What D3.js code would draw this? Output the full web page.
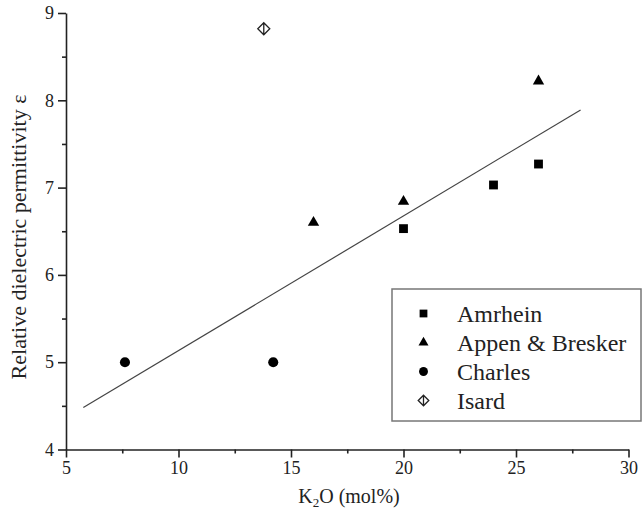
<!DOCTYPE html>
<html>
<head>
<meta charset="utf-8">
<script src="https://cdn.jsdelivr.net/npm/d3@7"></script>
<style>
  html, body { margin: 0; padding: 0; background: #fff; }
  svg { display: block; }
  text { font-family: "Liberation Serif", "Times New Roman", serif; fill: #222; }
</style>
</head>
<body>
<svg id="chart" width="642" height="511"></svg>
<script>
// ---- data ----
const amrheinX = [20, 24, 26];
const amrheinY = [6.53, 7.03, 7.27];
const appenX = [16, 20, 26];
const appenY = [6.60, 6.84, 8.22];
const charlesX = [7.62, 14.21];
const charlesY = [5.0, 5.0];
const isardX = [13.79];
const isardY = [8.82];
const fitX = [5.77, 27.87];
const fitY = [4.48, 7.89];
const xTicks = [5, 10, 15, 20, 25, 30];
const xMinorTicks = [7.5, 12.5, 17.5, 22.5, 27.5];
const yTicks = [4, 5, 6, 7, 8, 9];
const yMinorTicks = [4.5, 5.5, 6.5, 7.5, 8.5];
const legendNames = ["Amrhein", "Appen & Bresker", "Charles", "Isard"];
const legendShapes = ["square", "triangle", "circle", "diamond"];

const svg = d3.select("#chart");
const x = d3.scaleLinear().domain([5, 30]).range([66, 628.5]);
const y = d3.scaleLinear().domain([4, 9]).range([449.5, 13]);

// ---- axes ----
const axisStroke = "#222";
const gx = svg.append("g").attr("transform", `translate(0,${y(4)})`)
  .call(d3.axisBottom(x).tickValues(xTicks).tickSize(8).tickSizeOuter(0).tickPadding(4).tickFormat(d3.format("d")));
const gxm = svg.append("g").attr("transform", `translate(0,${y(4)})`)
  .call(d3.axisBottom(x).tickValues(xMinorTicks).tickSize(4).tickSizeOuter(0).tickFormat(""));
const gy = svg.append("g").attr("transform", `translate(${x(5)},0)`)
  .call(d3.axisLeft(y).tickValues(yTicks).tickSize(8).tickSizeOuter(0).tickPadding(4).tickFormat(d3.format("d")));
const gym = svg.append("g").attr("transform", `translate(${x(5)},0)`)
  .call(d3.axisLeft(y).tickValues(yMinorTicks).tickSize(4).tickSizeOuter(0).tickFormat(""));
[gx, gxm, gy, gym].forEach(g => {
  g.selectAll("path.domain").attr("stroke", axisStroke).attr("stroke-width", 1.6);
  g.selectAll(".tick line").attr("stroke", axisStroke).attr("stroke-width", 1.6);
  g.selectAll(".tick text").attr("font-size", 18).attr("font-family", "Liberation Serif").attr("fill", "#333");
});
gxm.select("path.domain").remove();
gym.select("path.domain").remove();

// ---- axis titles ----
const xt = svg.append("text").attr("x", 349).attr("y", 503).attr("text-anchor", "middle").attr("font-size", 20).attr("fill", "#333");
xt.append("tspan").text("K");
xt.append("tspan").attr("font-size", 13).attr("dy", 4).text("2");
xt.append("tspan").attr("dy", -4).text("O (mol%)");

svg.append("text").attr("transform", "rotate(-90)")
  .attr("x", -237).attr("y", 26).attr("text-anchor", "middle")
  .attr("font-size", 22).attr("fill", "#333")
  .text("Relative dielectric permittivity ε");

// ---- fit line ----
svg.append("path")
  .datum(fitX.map((v, i) => [v, fitY[i]]))
  .attr("d", d3.line().x(d => x(d[0])).y(d => y(d[1])))
  .attr("fill", "none").attr("stroke", "#444").attr("stroke-width", 1.2);

// ---- markers ----
function drawShape(g, shape, cx, cy, scale) {
  const s = scale || 1;
  if (shape === "square") {
    g.append("path").attr("d", d3.symbol(d3.symbolSquare, 78 * s * s)()).attr("transform", `translate(${cx},${cy})`).attr("fill", "#000");
  } else if (shape === "triangle") {
    g.append("path").attr("d", d3.symbol(d3.symbolTriangle, 56 * s * s)()).attr("transform", `translate(${cx},${cy})`).attr("fill", "#000");
  } else if (shape === "circle") {
    g.append("path").attr("d", d3.symbol(d3.symbolCircle, 80 * s * s)()).attr("transform", `translate(${cx},${cy})`).attr("fill", "#000");
  } else if (shape === "diamond") {
    const h = 6 * s;
    g.append("path").attr("d", `M0,${-h}L${h},0L0,${h}L${-h},0Z M0,${-h}L0,${h}`)
      .attr("transform", `translate(${cx},${cy})`).attr("fill", "#fff").attr("stroke", "#222").attr("stroke-width", 1.3);
  }
}
const marks = svg.append("g");
amrheinX.forEach((v, i) => drawShape(marks, "square", x(v), y(amrheinY[i])));
appenX.forEach((v, i) => drawShape(marks, "triangle", x(v), y(appenY[i])));
charlesX.forEach((v, i) => drawShape(marks, "circle", x(v), y(charlesY[i])));
isardX.forEach((v, i) => drawShape(marks, "diamond", x(v), y(isardY[i])));

// ---- legend ----
const lg = svg.append("g");
lg.append("rect").attr("x", 392).attr("y", 289).attr("width", 249).attr("height", 132)
  .attr("fill", "#fff").attr("stroke", "#777").attr("stroke-width", 1.5);
legendNames.forEach((name, i) => {
  const cy = 313.5 + i * 29;
  drawShape(lg, legendShapes[i], 423.5, cy, 0.88);
  lg.append("text").attr("x", 457).attr("y", cy + 8.5).attr("font-size", 24).attr("fill", "#333").text(name);
});
</script>
</body>
</html>
